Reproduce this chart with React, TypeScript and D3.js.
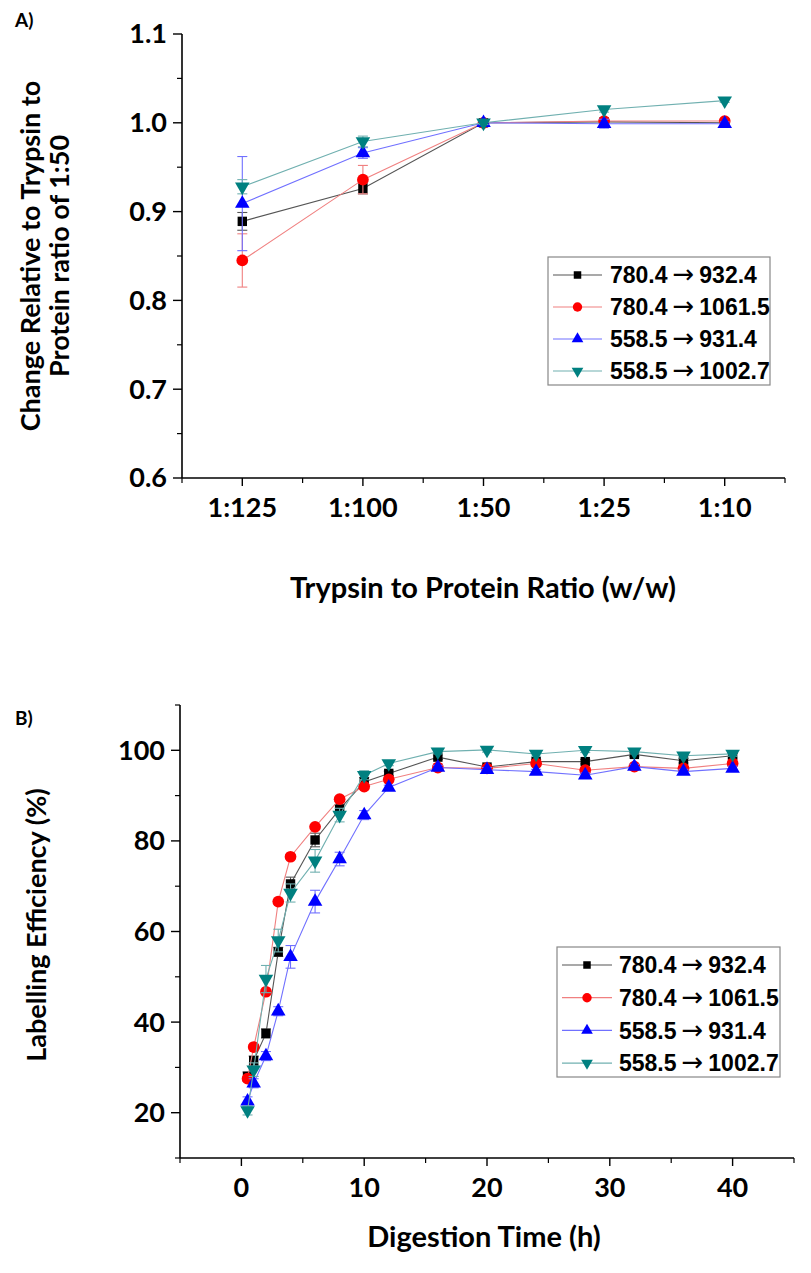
import React from 'react';
import * as d3 from 'd3';

// ---------- Data: panel A ----------
const ratioLabels = ['1:125', '1:100', '1:50', '1:25', '1:10'];
const precursors = ['780.4', '780.4', '558.5', '558.5'];
const products = ['932.4', '1061.5', '931.4', '1002.7'];
const ratioBlack = [0.889, 0.926, 1.0, 1.001, 1.0];
const ratioRed = [0.845, 0.936, 1.0, 1.002, 1.002];
const ratioBlue = [0.909, 0.966, 1.0, 0.999, 0.999];
const ratioTeal = [0.928, 0.979, 1.0, 1.015, 1.025];
const ratioBlackErr = [0.01, 0.006, 0.0, 0.002, 0.001];
const ratioRedErr = [0.03, 0.016, 0.0, 0.003, 0.002];
const ratioBlueErr = [0.053, 0.006, 0.002, 0.005, 0.002];
const ratioTealErr = [0.008, 0.006, 0.002, 0.003, 0.002];
const ratioYTicks = [0.6, 0.7, 0.8, 0.9, 1.0, 1.1];

// ---------- Data: panel B ----------
const hours = [0.5, 1, 2, 3, 4, 6, 8, 10, 12, 16, 20, 24, 28, 32, 36, 40];
const effBlack = [28, 31.5, 37.5, 55.5, 70.5, 80.2, 87, 93, 94.9, 98.5, 96.3, 97.5, 97.5, 99.1, 97.7, 98.8];
const effRed = [27.5, 34.5, 46.7, 66.6, 76.5, 83.1, 89.2, 92, 93.6, 96.2, 96, 97.1, 95.6, 96.4, 96, 97.1];
const effBlue = [22.5, 26.5, 32.5, 42.4, 54.4, 66.6, 76, 85.7, 91.8, 96.2, 95.7, 95.3, 94.5, 96.4, 95.3, 96];
const effTeal = [20.5, 29.5, 49.5, 58, 68.5, 75.6, 85.7, 94.5, 97.1, 99.7, 100.1, 99.2, 100, 99.7, 98.8, 99.2];
const effBlackErr = [1, 1, 1, 1, 1.5, 1.5, 1, 1, 0.5, 0.5, 0.5, 0.5, 0.5, 0.5, 0.5, 0.5];
const effRedErr = [0.5, 0.5, 0.5, 0.5, 0.5, 0.5, 0.5, 0.5, 0.5, 0.5, 0.5, 0.5, 0.5, 0.5, 0.5, 0.5];
const effBlueErr = [1, 1, 1, 1, 2.5, 2.5, 1.5, 1, 0.5, 0.5, 0.5, 0.5, 0.5, 0.5, 0.5, 0.5];
const effTealErr = [1, 1.5, 3, 2.5, 2, 2.5, 1.5, 1, 0.5, 0.5, 0.5, 0.5, 0.5, 0.5, 0.5, 0.5];
const effYTicks = [20, 40, 60, 80, 100];
const hourTicks = [0, 10, 20, 30, 40];

// ---------- Styles ----------
const colors = ['#000000', '#ff0000', '#0000ff', '#008080'];
const lineColors = ['#555555', '#f08080', '#7070ff', '#70b0b0'];
const symbols = [d3.symbolSquare, d3.symbolCircle, d3.symbolTriangle, d3.symbolTriangle];
const symbolSizes = [88, 108, 92, 92];
const rotations = [0, 0, 0, 180];
const TICK_FONT = 'Lato, "Open Sans", sans-serif';
const LEG_FONT = '"Liberation Sans", Arial, sans-serif';
const TICK_SIZE = 27;
const TITLE_SIZE = 29;

type Series = { values: number[]; errs: number[] };

function Marker({ i, x, y, scale = 1 }: { i: number; x: number; y: number; scale?: number }) {
  const p = d3.symbol().type(symbols[i]).size(symbolSizes[i] * scale * scale)() as string;
  return <path d={p} transform={`translate(${x},${y}) rotate(${rotations[i]})`} fill={colors[i]} />;
}

function Legend({ x, y, w, h, rowH, fontSize, line, textX }: { x: number; y: number; w: number; h: number; rowH: number; fontSize: number; line: [number, number]; textX: number }) {
  return (
    <g>
      <rect x={x} y={y} width={w} height={h} fill="#fff" stroke="#888" strokeWidth={1.2} />
      {precursors.map((pre, i) => {
        const cy = y + 18 + i * rowH;
        const tx = x + textX;
        const w1 = 2.502 * fontSize;
        return (
          <g key={i}>
            <line x1={x + line[0]} x2={x + line[1]} y1={cy} y2={cy} stroke={lineColors[i]} strokeWidth={1.2} />
            <Marker i={i} x={x + (line[0] + line[1]) / 2} y={cy} scale={0.8} />
            <text y={cy} dy="0.36em" fontFamily={LEG_FONT} fontWeight="bold" fontSize={fontSize}>
              <tspan x={tx}>{pre}</tspan>
              <tspan x={tx + w1 + 5} fontFamily='"DejaVu Sans", sans-serif' fontWeight="normal" fontSize={fontSize + 3}>{'\u2192'}</tspan>
              <tspan x={tx + w1 + 5 + 0.838 * (fontSize + 3) + 5}>{products[i]}</tspan>
            </text>
          </g>
        );
      })}
    </g>
  );
}

function PanelA() {
  const x = d3.scaleLinear().domain([-0.5, 4.5]).range([182, 785]);
  const y = d3.scaleLinear().domain([0.6, 1.1]).range([478, 34]);
  const series: Series[] = [
    { values: ratioBlack, errs: ratioBlackErr },
    { values: ratioRed, errs: ratioRedErr },
    { values: ratioBlue, errs: ratioBlueErr },
    { values: ratioTeal, errs: ratioTealErr },
  ];
  const idx = ratioLabels.map((_, i) => i);
  const line = d3.line<number>();
  const minorY = [0.65, 0.75, 0.85, 0.95, 1.05];
  const minorX = [-0.5, 0.5, 1.5, 2.5, 3.5, 4.5];
  return (
    <g>
      <text x={15} y={27} fontFamily={TICK_FONT} fontWeight="bold" fontSize={19}>A)</text>
      <line x1={182} x2={182} y1={y(1.1)} y2={y(0.6)} stroke="#000" strokeWidth={1.6} />
      <line x1={182} x2={785} y1={y(0.6)} y2={y(0.6)} stroke="#000" strokeWidth={1.6} />
      {ratioYTicks.map((t) => (
        <g key={t}>
          <line x1={173} x2={182} y1={y(t)} y2={y(t)} stroke="#000" strokeWidth={1.4} />
          <text x={167} y={y(t)} dy="0.35em" textAnchor="end" fontFamily={TICK_FONT} fontWeight="bold" fontSize={TICK_SIZE}>{t.toFixed(1)}</text>
        </g>
      ))}
      {minorY.map((t) => (
        <line key={t} x1={177} x2={182} y1={y(t)} y2={y(t)} stroke="#000" strokeWidth={1.2} />
      ))}
      {idx.map((i) => (
        <g key={i}>
          <line x1={x(i)} x2={x(i)} y1={y(0.6)} y2={y(0.6) + 8} stroke="#000" strokeWidth={1.4} />
          <text x={x(i)} y={y(0.6) + 30} dy="0.35em" textAnchor="middle" fontFamily={TICK_FONT} fontWeight="bold" fontSize={TICK_SIZE}>{ratioLabels[i]}</text>
        </g>
      ))}
      {minorX.map((t) => (
        <line key={t} x1={x(t)} x2={x(t)} y1={y(0.6)} y2={y(0.6) + 5} stroke="#000" strokeWidth={1.2} />
      ))}
      <text transform={`translate(40,256) rotate(-90)`} textAnchor="middle" fontFamily={TICK_FONT} fontWeight="bold" fontSize={27}>Change Relative to Trypsin to</text>
      <text transform={`translate(69,256) rotate(-90)`} textAnchor="middle" fontFamily={TICK_FONT} fontWeight="bold" fontSize={27}>Protein ratio of 1:50</text>
      <text x={483} y={588} dy="0.35em" textAnchor="middle" fontFamily={TICK_FONT} fontWeight="bold" fontSize={TITLE_SIZE}>Trypsin to Protein Ratio (w/w)</text>
      {series.map((s, si) => (
        <g key={si}>
          <path d={line(s.values.map((v, i) => [x(i), y(v)] as [number, number])) as string} fill="none" stroke={lineColors[si]} strokeWidth={1.1} />
          {s.values.map((v, i) => s.errs[i] > 0.0015 ? (
            <g key={i} stroke={lineColors[si]} strokeWidth={1.1}>
              <line x1={x(i)} x2={x(i)} y1={y(v - s.errs[i])} y2={y(v + s.errs[i])} />
              <line x1={x(i) - 5} x2={x(i) + 5} y1={y(v - s.errs[i])} y2={y(v - s.errs[i])} />
              <line x1={x(i) - 5} x2={x(i) + 5} y1={y(v + s.errs[i])} y2={y(v + s.errs[i])} />
            </g>
          ) : null)}
          {s.values.map((v, i) => <Marker key={i} i={si} x={x(i)} y={y(v)} />)}
        </g>
      ))}
      <Legend x={548} y={257} w={222} h={128} rowH={32} fontSize={23} line={[5, 54]} textX={62} />
    </g>
  );
}

function PanelB() {
  const x = d3.scaleLinear().domain([-5, 45]).range([180, 794]);
  const y = d3.scaleLinear().domain([10, 110]).range([1158, 705]);
  const series: Series[] = [
    { values: effBlack, errs: effBlackErr },
    { values: effRed, errs: effRedErr },
    { values: effBlue, errs: effBlueErr },
    { values: effTeal, errs: effTealErr },
  ];
  const line = d3.line<number>();
  const minorY = [10, 30, 50, 70, 90, 110];
  const minorX = [-5, 5, 15, 25, 35, 45];
  return (
    <g>
      <text x={15} y={725} fontFamily={TICK_FONT} fontWeight="bold" fontSize={19}>B)</text>
      <line x1={180} x2={180} y1={y(110)} y2={y(10)} stroke="#000" strokeWidth={1.6} />
      <line x1={180} x2={794} y1={y(10)} y2={y(10)} stroke="#000" strokeWidth={1.6} />
      {effYTicks.map((t) => (
        <g key={t}>
          <line x1={171} x2={180} y1={y(t)} y2={y(t)} stroke="#000" strokeWidth={1.4} />
          <text x={165} y={y(t)} dy="0.35em" textAnchor="end" fontFamily={TICK_FONT} fontWeight="bold" fontSize={TICK_SIZE}>{t}</text>
        </g>
      ))}
      {minorY.map((t) => (
        <line key={t} x1={175} x2={180} y1={y(t)} y2={y(t)} stroke="#000" strokeWidth={1.2} />
      ))}
      {hourTicks.map((t) => (
        <g key={t}>
          <line x1={x(t)} x2={x(t)} y1={y(10)} y2={y(10) + 8} stroke="#000" strokeWidth={1.4} />
          <text x={x(t)} y={y(10) + 30} dy="0.35em" textAnchor="middle" fontFamily={TICK_FONT} fontWeight="bold" fontSize={TICK_SIZE}>{t}</text>
        </g>
      ))}
      {minorX.map((t) => (
        <line key={t} x1={x(t)} x2={x(t)} y1={y(10)} y2={y(10) + 5} stroke="#000" strokeWidth={1.2} />
      ))}
      <text transform={`translate(46,925) rotate(-90)`} textAnchor="middle" fontFamily={TICK_FONT} fontWeight="bold" fontSize={27}>Labelling Efficiency (%)</text>
      <text x={484} y={1237} dy="0.35em" textAnchor="middle" fontFamily={TICK_FONT} fontWeight="bold" fontSize={TITLE_SIZE}>Digestion Time (h)</text>
      {series.map((s, si) => (
        <g key={si}>
          <path d={line(s.values.map((v, i) => [x(hours[i]), y(v)] as [number, number])) as string} fill="none" stroke={lineColors[si]} strokeWidth={1.1} />
          {s.values.map((v, i) => (
            <g key={i} stroke={lineColors[si]} strokeWidth={1.1}>
              <line x1={x(hours[i])} x2={x(hours[i])} y1={y(v - s.errs[i])} y2={y(v + s.errs[i])} />
              <line x1={x(hours[i]) - 5} x2={x(hours[i]) + 5} y1={y(v - s.errs[i])} y2={y(v - s.errs[i])} />
              <line x1={x(hours[i]) - 5} x2={x(hours[i]) + 5} y1={y(v + s.errs[i])} y2={y(v + s.errs[i])} />
            </g>
          ))}
          {s.values.map((v, i) => <Marker key={i} i={si} x={x(hours[i])} y={y(v)} />)}
        </g>
      ))}
      <Legend x={557} y={947} w={223} h={130} rowH={32.7} fontSize={23} line={[5, 55]} textX={62} />
    </g>
  );
}

export default function App() {
  return (
    <svg width={811} height={1273} style={{ position: 'absolute', left: 0, top: 0, background: '#fff' }}>
      <rect width={811} height={1273} fill="#fff" />
      <PanelA />
      <PanelB />
    </svg>
  );
}
